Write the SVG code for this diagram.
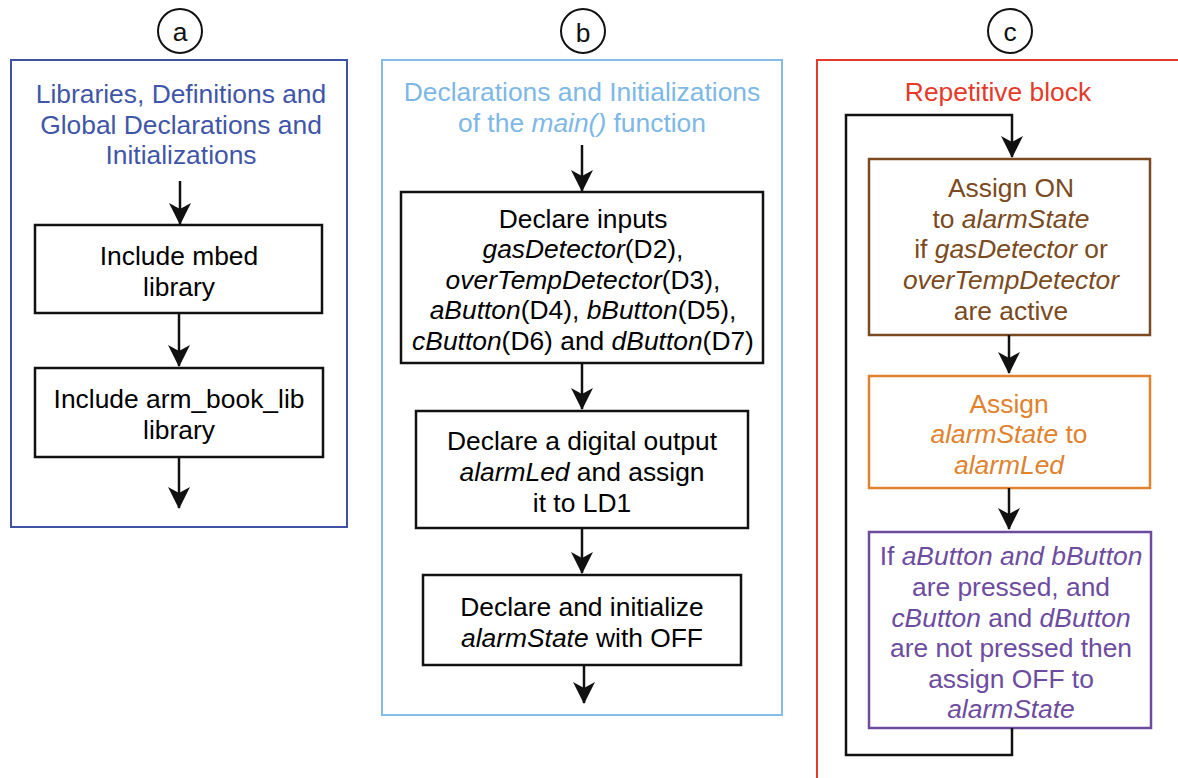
<svg xmlns="http://www.w3.org/2000/svg" width="1178" height="778" viewBox="0 0 1178 778">
<style>
text{font-family:"Liberation Sans",Arial,sans-serif;font-size:26.4px;text-anchor:middle}
.i{font-style:italic}
.box{fill:#fff;stroke:#111;stroke-width:2.5}
.lbl{fill:#fff;stroke:#111;stroke-width:2}
.con{fill:none;stroke:#111;stroke-width:2.5}
</style>
<defs>
<marker id="ah" markerUnits="userSpaceOnUse" viewBox="0 0 22 22" markerWidth="22" markerHeight="22" refX="21" refY="11" orient="auto">
<path d="M0,0 L22,11 L0,22 L6,11 Z" fill="#111"/>
</marker>
</defs>
<rect width="1178" height="778" fill="#fff"/>

<g id="panel-a">
<rect x="11" y="60" width="336" height="467" fill="none" stroke="#3F51A5" stroke-width="2"/>
<circle cx="180" cy="31" r="22" class="lbl"/>
<text x="180" y="41" fill="#111">a</text>
<text x="181" y="103" fill="#3F56A8">Libraries, Definitions and</text>
<text x="181" y="134" fill="#3F56A8">Global Declarations and</text>
<text x="181" y="164" fill="#3F56A8">Initializations</text>
</g>
<g id="node-a1">
<rect x="35" y="225" width="287" height="88" class="box"/>
<text x="179" y="265">Include mbed</text>
<text x="179" y="296">library</text>
</g>
<g id="node-a2">
<rect x="35" y="368" width="288" height="89" class="box"/>
<text x="179" y="408">Include arm_book_lib</text>
<text x="179" y="439">library</text>
</g>

<g id="panel-b">
<rect x="382" y="60" width="400" height="655" fill="none" stroke="#86BCE8" stroke-width="2"/>
<circle cx="583" cy="31" r="22" class="lbl"/>
<text x="583" y="42" fill="#111">b</text>
<text x="582" y="101" fill="#7DB8E6">Declarations and Initializations</text>
<text x="582" y="132" fill="#7DB8E6">of the <tspan class="i">main()</tspan> function</text>
</g>
<g id="node-b1">
<rect x="401" y="192" width="362" height="171" class="box"/>
<text x="583" y="228">Declare inputs</text>
<text x="583" y="258"><tspan class="i">gasDetector</tspan>(D2),</text>
<text x="583" y="289"><tspan class="i">overTempDetector</tspan>(D3),</text>
<text x="583" y="319"><tspan class="i">aButton</tspan>(D4), <tspan class="i">bButton</tspan>(D5),</text>
<text x="583" y="350"><tspan class="i">cButton</tspan>(D6) and <tspan class="i">dButton</tspan>(D7)</text>
</g>
<g id="node-b2">
<rect x="416" y="411" width="332" height="117" class="box"/>
<text x="582" y="450">Declare a digital output</text>
<text x="582" y="481"><tspan class="i">alarmLed</tspan> and assign</text>
<text x="582" y="512">it to LD1</text>
</g>
<g id="node-b3">
<rect x="423" y="575" width="318" height="90" class="box"/>
<text x="582" y="616">Declare and initialize</text>
<text x="582" y="647"><tspan class="i">alarmState</tspan> with OFF</text>
</g>

<g id="panel-c">
<rect x="817" y="60" width="420" height="760" fill="none" stroke="#E8392B" stroke-width="2"/>
<circle cx="1010" cy="31" r="22" class="lbl"/>
<text x="1010" y="41" fill="#111">c</text>
<text x="998" y="101" fill="#E53A2A">Repetitive block</text>
</g>
<g id="node-c1">
<rect x="869" y="159" width="281" height="176" fill="#fff" stroke="#7B4A21" stroke-width="2.5"/>
<text x="1011" y="197" fill="#7B4A21">Assign ON</text>
<text x="1011" y="228" fill="#7B4A21">to <tspan class="i">alarmState</tspan></text>
<text x="1011" y="258" fill="#7B4A21">if <tspan class="i">gasDetector</tspan> or</text>
<text x="1011" y="289" fill="#7B4A21" class="i">overTempDetector</text>
<text x="1011" y="320" fill="#7B4A21">are active</text>
</g>
<g id="node-c2">
<rect x="869" y="376" width="281" height="112" fill="#fff" stroke="#E0822E" stroke-width="2.5"/>
<text x="1009" y="413" fill="#E0822E">Assign</text>
<text x="1009" y="443" fill="#E0822E"><tspan class="i">alarmState</tspan> to</text>
<text x="1009" y="474" fill="#E0822E" class="i">alarmLed</text>
</g>
<g id="node-c3">
<rect x="869" y="532" width="282" height="196" fill="#fff" stroke="#6D4C9F" stroke-width="2.5"/>
<text x="1011" y="565" fill="#6D4C9F">If <tspan class="i">aButton and bButton</tspan></text>
<text x="1011" y="596" fill="#6D4C9F">are pressed, and</text>
<text x="1011" y="627" fill="#6D4C9F"><tspan class="i">cButton</tspan> and <tspan class="i">dButton</tspan></text>
<text x="1011" y="657" fill="#6D4C9F">are not pressed then</text>
<text x="1011" y="688" fill="#6D4C9F">assign OFF to</text>
<text x="1011" y="718" fill="#6D4C9F" class="i">alarmState</text>
</g>

<g id="connectors">
<line x1="180" y1="181" x2="180" y2="224" class="con" marker-end="url(#ah)"/>
<line x1="179" y1="313" x2="179" y2="366" class="con" marker-end="url(#ah)"/>
<line x1="179" y1="457" x2="179" y2="508" class="con" marker-end="url(#ah)"/>
<line x1="582" y1="145" x2="582" y2="191" class="con" marker-end="url(#ah)"/>
<line x1="582" y1="363" x2="582" y2="409" class="con" marker-end="url(#ah)"/>
<line x1="582" y1="528" x2="582" y2="573" class="con" marker-end="url(#ah)"/>
<line x1="584" y1="665" x2="584" y2="703" class="con" marker-end="url(#ah)"/>
<line x1="1009" y1="335" x2="1009" y2="373" class="con" marker-end="url(#ah)"/>
<line x1="1009" y1="488" x2="1009" y2="529" class="con" marker-end="url(#ah)"/>
<path d="M1012,728 L1012,755 L846,755 L846,115 L1012,115 L1012,157" class="con" marker-end="url(#ah)"/>
</g>
</svg>
